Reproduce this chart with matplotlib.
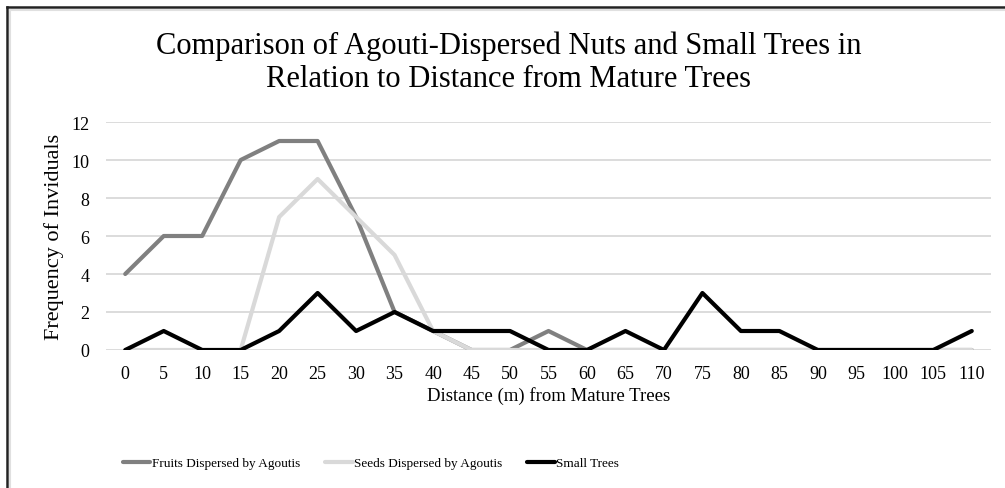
import matplotlib.pyplot as plt
from matplotlib.lines import Line2D

plt.rcParams['font.family'] = ['Liberation Serif', 'DejaVu Serif']

distances = [0, 5, 10, 15, 20, 25, 30, 35, 40, 45, 50, 55, 60, 65, 70, 75,
             80, 85, 90, 95, 100, 105, 110]
fruits = [4, 6, 6, 10, 11, 11, 7, 2, 1, 0, 0, 1, 0, 0, 0, 0, 0, 0, 0, 0, 0, 0, 0]
seeds = [0, 0, 0, 0, 7, 9, 7, 5, 1, 0, 0, 0, 0, 0, 0, 0, 0, 0, 0, 0, 0, 0, 0]
small_trees = [0, 1, 0, 0, 1, 3, 1, 2, 1, 1, 1, 0, 0, 1, 0, 3, 1, 1, 0, 0, 0, 0, 1]

fig = plt.figure(figsize=(10.05, 4.89), dpi=100)
ax = fig.add_axes([106 / 1005, 1 - 351 / 489, 885 / 1005, 228 / 489])

xs = list(range(len(distances)))
ax.plot(xs, fruits, color='#808080', lw=3, label='Fruits Dispersed by Agoutis',
        solid_joinstyle='round', solid_capstyle='round')
ax.plot(xs, seeds, color='#d9d9d9', lw=3, label='Seeds Dispersed by Agoutis',
        solid_joinstyle='round', solid_capstyle='round')
ax.plot(xs, small_trees, color='black', lw=3, label='Small Trees',
        solid_joinstyle='round', solid_capstyle='round')

ax.set_xlim(-0.5, len(distances) - 0.5)
ax.set_ylim(0, 12)
ax.set_yticks(range(0, 13, 2))
ax.set_xticks(xs)
ax.set_xticklabels([str(d) for d in distances])
ax.grid(axis='y', color='#d9d9d9', lw=1.3)
ax.set_axisbelow(True)
for s in ax.spines.values():
    s.set_visible(False)
ax.tick_params(axis='x', length=0, labelsize=13, pad=11)
ax.tick_params(axis='y', length=0, labelsize=13, pad=12)
ax.set_xlabel('Distance (m) from Mature Trees', fontsize=13.5, labelpad=3)
ax.set_ylabel('Frequency of Inviduals', fontsize=16, labelpad=5)

fig.text(0.506, 1 - 63 / 489,
         'Comparison of Agouti-Dispersed Nuts and Small Trees in\nRelation to Distance from Mature Trees',
         ha='center', va='center', fontsize=22, linespacing=1.2)

fig.legend(loc='center', bbox_to_anchor=(0.369, 1 - 464 / 489), ncol=3, frameon=False,
           fontsize=9.5, handlelength=2.1, handletextpad=0.1, columnspacing=1.9)

# document frame around the chart
fig.add_artist(Line2D([7 / 1005, 1], [1 - 8 / 489, 1 - 8 / 489], color='#222222', lw=1.8))
fig.add_artist(Line2D([7 / 1005, 7 / 1005], [0, 1 - 8 / 489], color='#222222', lw=1.8))
fig.add_artist(Line2D([10 / 1005, 1], [1 - 11 / 489, 1 - 11 / 489], color='#e0e0e0', lw=1.5))
fig.add_artist(Line2D([10 / 1005, 10 / 1005], [0, 1 - 11 / 489], color='#e0e0e0', lw=1.5))

fig.savefig('out.png', dpi=100)
